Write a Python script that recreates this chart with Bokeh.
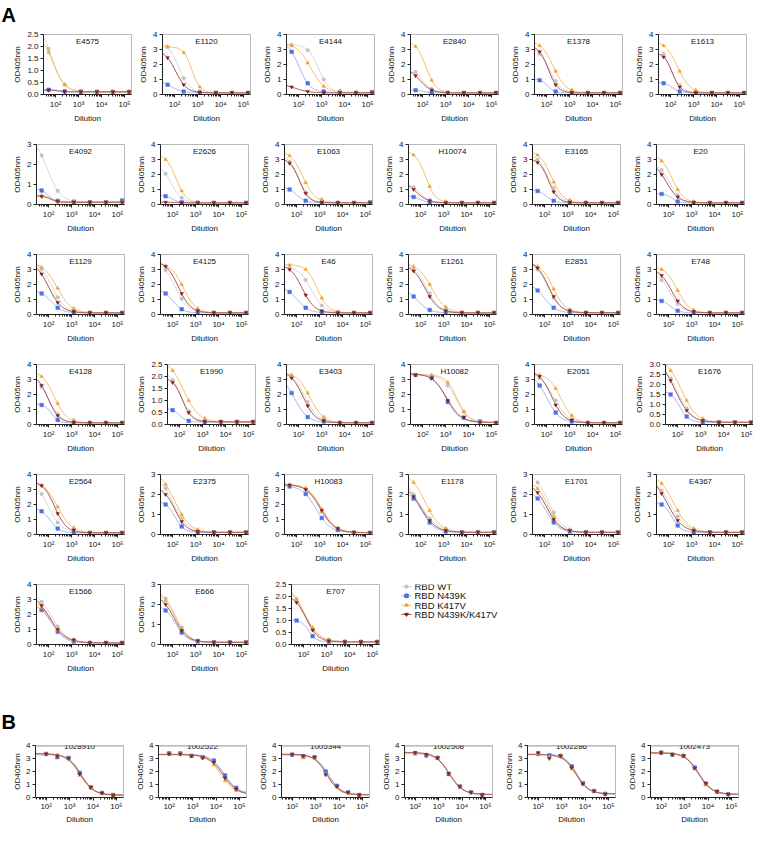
import numpy as np
from bokeh.plotting import figure
from bokeh.models import (FixedTicker, CustomJSTickFormatter, PrintfTickFormatter, Label,
                          Span, Spacer)
from bokeh.layouts import row, column
from bokeh.core.properties import value
from bokeh.embed import file_html
from bokeh.resources import INLINE

# ---------------- data ----------------
dil_a = [50, 250, 1250, 6250, 31250, 156250]
dil_b = [100, 300, 900, 2700, 8100, 24300, 72900]
series_names = ["RBD WT", "RBD N439K", "RBD K417V", "RBD N439K/K417V"]

names_a = ["E4575", "E1120", "E4144", "E2840", "E1378", "E1613",
           "E4092", "E2626", "E1063", "H10074", "E3165", "E20",
           "E1129", "E4125", "E46", "E1261", "E2851", "E748",
           "E4128", "E1990", "E3403", "H10082", "E2051", "E1676",
           "E2564", "E2375", "H10083", "E1178", "E1701", "E4367",
           "E1566", "E666", "E707"]

ymax_a = [2.5, 4, 4, 4, 4, 4,
          3, 4, 4, 4, 4, 4,
          4, 4, 4, 4, 4, 4,
          4, 2.5, 4, 4, 4, 3,
          4, 3, 4, 3, 3, 3,
          4, 3, 2.5]
ystep_a = [0.5, 1, 1, 1, 1, 1,
           1, 1, 1, 1, 1, 1,
           1, 1, 1, 1, 1, 1,
           1, 0.5, 1, 1, 1, 0.5,
           1, 1, 1, 1, 1, 1,
           1, 1, 0.5]

wt_a = [
    [1.90, 0.42, 0.15, 0.12, 0.11, 0.11],
    [3.15, 1.08, 0.22, 0.13, 0.11, 0.11],
    [3.30, 2.95, 1.00, 0.25, 0.13, 0.11],
    [1.50, 0.38, 0.13, 0.11, 0.11, 0.11],
    [2.70, 0.90, 0.16, 0.11, 0.11, 0.11],
    [2.70, 0.62, 0.15, 0.11, 0.11, 0.11],
    [2.45, 0.68, 0.18, 0.12, 0.11, 0.11],
    [2.05, 0.45, 0.13, 0.11, 0.11, 0.11],
    [2.85, 0.80, 0.16, 0.11, 0.11, 0.14],
    [1.15, 0.30, 0.12, 0.11, 0.11, 0.11],
    [3.00, 1.10, 0.20, 0.11, 0.11, 0.11],
    [2.30, 0.62, 0.15, 0.11, 0.11, 0.11],
    [3.00, 1.15, 0.25, 0.12, 0.11, 0.11],
    [2.95, 1.05, 0.22, 0.12, 0.11, 0.11],
    [3.10, 2.30, 0.60, 0.15, 0.11, 0.11],
    [3.00, 1.40, 0.30, 0.12, 0.11, 0.11],
    [3.00, 1.10, 0.22, 0.12, 0.11, 0.11],
    [2.30, 0.70, 0.16, 0.11, 0.11, 0.11],
    [2.50, 0.70, 0.16, 0.11, 0.11, 0.11],
    [1.85, 0.55, 0.15, 0.11, 0.11, 0.11],
    [3.20, 1.50, 0.40, 0.13, 0.11, 0.11],
    [3.30, 3.25, 2.60, 0.85, 0.22, 0.11],
    [3.10, 1.60, 0.35, 0.12, 0.11, 0.11],
    [2.30, 0.80, 0.20, 0.11, 0.11, 0.11],
    [2.70, 0.80, 0.20, 0.11, 0.11, 0.11],
    [2.30, 0.80, 0.20, 0.11, 0.11, 0.11],
    [3.30, 3.00, 1.50, 0.40, 0.15, 0.11],
    [2.00, 0.80, 0.28, 0.12, 0.11, 0.11],
    [2.60, 1.10, 0.25, 0.12, 0.11, 0.11],
    [2.20, 0.90, 0.25, 0.12, 0.11, 0.11],
    [2.85, 1.20, 0.35, 0.12, 0.11, 0.11],
    [2.30, 0.85, 0.20, 0.11, 0.11, 0.11],
    [1.80, 0.65, 0.20, 0.12, 0.11, 0.11],
]
n439k_a = [
    [0.20, 0.13, 0.11, 0.11, 0.11, 0.11],
    [0.65, 0.20, 0.12, 0.11, 0.11, 0.11],
    [2.85, 0.75, 0.20, 0.12, 0.11, 0.16],
    [0.28, 0.13, 0.11, 0.11, 0.11, 0.11],
    [0.95, 0.20, 0.11, 0.11, 0.11, 0.11],
    [0.75, 0.20, 0.11, 0.11, 0.11, 0.11],
    [0.70, 0.18, 0.12, 0.11, 0.11, 0.20],
    [0.55, 0.15, 0.11, 0.11, 0.11, 0.11],
    [1.00, 0.25, 0.12, 0.11, 0.11, 0.14],
    [0.50, 0.15, 0.11, 0.11, 0.11, 0.11],
    [0.90, 0.25, 0.11, 0.11, 0.11, 0.11],
    [0.70, 0.20, 0.11, 0.11, 0.11, 0.11],
    [1.40, 0.45, 0.13, 0.11, 0.11, 0.11],
    [1.40, 0.35, 0.12, 0.11, 0.11, 0.11],
    [1.50, 0.45, 0.14, 0.11, 0.11, 0.11],
    [1.20, 0.30, 0.12, 0.11, 0.11, 0.11],
    [1.60, 0.45, 0.14, 0.11, 0.11, 0.11],
    [0.90, 0.25, 0.11, 0.11, 0.11, 0.11],
    [1.30, 0.30, 0.11, 0.11, 0.11, 0.11],
    [0.60, 0.15, 0.11, 0.11, 0.11, 0.11],
    [2.10, 0.50, 0.20, 0.11, 0.11, 0.11],
    [3.30, 3.10, 1.50, 0.45, 0.20, 0.11],
    [2.60, 0.80, 0.20, 0.11, 0.11, 0.11],
    [1.50, 0.40, 0.12, 0.11, 0.11, 0.11],
    [1.55, 0.40, 0.12, 0.11, 0.11, 0.11],
    [1.50, 0.40, 0.12, 0.11, 0.11, 0.11],
    [3.20, 2.70, 1.10, 0.30, 0.12, 0.11],
    [1.80, 0.60, 0.15, 0.11, 0.11, 0.11],
    [1.80, 0.60, 0.15, 0.11, 0.11, 0.11],
    [1.50, 0.45, 0.12, 0.11, 0.11, 0.11],
    [2.30, 0.85, 0.20, 0.11, 0.11, 0.11],
    [1.70, 0.60, 0.15, 0.11, 0.11, 0.11],
    [1.00, 0.35, 0.12, 0.11, 0.11, 0.11],
]
k417v_a = [
    [1.75, 0.40, 0.13, 0.11, 0.11, 0.11],
    [3.20, 2.80, 0.50, 0.13, 0.11, 0.11],
    [3.25, 2.10, 0.55, 0.15, 0.11, 0.11],
    [3.20, 0.95, 0.15, 0.11, 0.11, 0.11],
    [3.25, 1.55, 0.30, 0.12, 0.11, 0.11],
    [3.25, 1.55, 0.30, 0.12, 0.11, 0.11],
    [0.45, 0.15, 0.11, 0.11, 0.11, 0.11],
    [3.00, 0.90, 0.15, 0.11, 0.11, 0.11],
    [3.25, 1.45, 0.35, 0.12, 0.11, 0.11],
    [3.30, 1.20, 0.20, 0.11, 0.11, 0.11],
    [3.30, 1.50, 0.30, 0.12, 0.11, 0.11],
    [2.90, 1.00, 0.20, 0.11, 0.11, 0.11],
    [3.15, 1.75, 0.40, 0.12, 0.11, 0.11],
    [3.25, 2.00, 0.40, 0.12, 0.11, 0.11],
    [3.30, 3.00, 1.10, 0.20, 0.11, 0.11],
    [3.20, 2.00, 0.50, 0.13, 0.11, 0.11],
    [3.20, 1.70, 0.35, 0.12, 0.11, 0.11],
    [3.00, 1.60, 0.30, 0.12, 0.11, 0.11],
    [3.20, 1.40, 0.30, 0.12, 0.11, 0.11],
    [2.25, 1.00, 0.25, 0.11, 0.11, 0.11],
    [3.30, 2.10, 0.50, 0.12, 0.11, 0.11],
    [3.30, 3.30, 2.80, 0.85, 0.20, 0.11],
    [3.30, 2.40, 0.60, 0.13, 0.11, 0.11],
    [2.70, 1.20, 0.30, 0.11, 0.11, 0.11],
    [3.30, 1.85, 0.45, 0.12, 0.11, 0.11],
    [2.50, 1.00, 0.25, 0.11, 0.11, 0.11],
    [3.30, 3.10, 1.70, 0.45, 0.15, 0.11],
    [2.60, 1.20, 0.30, 0.12, 0.11, 0.11],
    [2.30, 0.90, 0.20, 0.11, 0.11, 0.11],
    [2.55, 1.20, 0.30, 0.12, 0.11, 0.11],
    [2.45, 0.95, 0.25, 0.11, 0.11, 0.11],
    [2.20, 0.80, 0.20, 0.11, 0.11, 0.11],
    [1.90, 0.70, 0.20, 0.12, 0.11, 0.11],
]
dm_a = [
    [0.18, 0.12, 0.11, 0.11, 0.11, 0.11],
    [2.45, 0.65, 0.15, 0.11, 0.11, 0.11],
    [0.50, 0.20, 0.12, 0.11, 0.11, 0.11],
    [1.25, 0.30, 0.12, 0.11, 0.11, 0.11],
    [2.85, 0.65, 0.13, 0.11, 0.11, 0.11],
    [2.50, 0.50, 0.12, 0.11, 0.11, 0.11],
    [0.40, 0.15, 0.11, 0.11, 0.11, 0.11],
    [0.15, 0.12, 0.11, 0.11, 0.11, 0.11],
    [2.75, 0.75, 0.15, 0.11, 0.11, 0.11],
    [1.00, 0.25, 0.12, 0.11, 0.11, 0.11],
    [2.80, 0.85, 0.15, 0.11, 0.11, 0.11],
    [2.00, 0.50, 0.14, 0.11, 0.11, 0.11],
    [2.70, 0.80, 0.20, 0.11, 0.11, 0.11],
    [3.20, 1.40, 0.25, 0.11, 0.11, 0.11],
    [3.00, 1.30, 0.25, 0.11, 0.11, 0.11],
    [2.90, 1.20, 0.25, 0.11, 0.11, 0.11],
    [3.10, 1.20, 0.25, 0.11, 0.11, 0.11],
    [2.60, 0.90, 0.20, 0.11, 0.11, 0.11],
    [2.60, 0.60, 0.15, 0.11, 0.11, 0.11],
    [1.75, 0.50, 0.12, 0.11, 0.11, 0.11],
    [3.10, 1.25, 0.25, 0.11, 0.11, 0.11],
    [3.30, 3.10, 1.60, 0.50, 0.15, 0.11],
    [3.20, 1.30, 0.30, 0.11, 0.11, 0.11],
    [2.20, 0.70, 0.20, 0.11, 0.11, 0.11],
    [3.25, 1.40, 0.30, 0.11, 0.11, 0.11],
    [2.00, 0.65, 0.15, 0.11, 0.11, 0.11],
    [3.30, 3.00, 1.60, 0.40, 0.15, 0.11],
    [1.90, 0.70, 0.20, 0.11, 0.11, 0.11],
    [2.10, 0.75, 0.20, 0.11, 0.11, 0.11],
    [2.05, 0.70, 0.20, 0.11, 0.11, 0.11],
    [2.60, 1.00, 0.30, 0.11, 0.11, 0.11],
    [2.00, 0.70, 0.18, 0.11, 0.11, 0.11],
    [1.75, 0.60, 0.15, 0.11, 0.11, 0.11],
]

names_b = ["1028910", "1002522", "1005344", "1002508", "1002286", "1002473"]
wt_b = [
    [3.35, 3.25, 3.00, 1.85, 0.80, 0.35, 0.18],
    [3.40, 3.30, 3.20, 3.10, 2.75, 1.60, 0.70],
    [3.30, 3.20, 3.10, 2.00, 0.90, 0.40, 0.20],
    [3.40, 3.15, 3.05, 1.85, 0.85, 0.40, 0.20],
    [3.35, 3.20, 3.20, 2.40, 1.10, 0.50, 0.28],
    [3.45, 3.30, 3.20, 2.30, 1.10, 0.45, 0.25],
]
n439k_b = [
    [3.35, 3.10, 3.05, 1.90, 0.78, 0.35, 0.20],
    [3.40, 3.40, 3.20, 3.10, 2.85, 1.70, 0.75],
    [3.30, 3.15, 3.10, 2.00, 0.90, 0.40, 0.20],
    [3.40, 3.25, 3.05, 1.80, 0.85, 0.40, 0.20],
    [3.35, 3.25, 3.20, 2.40, 1.10, 0.50, 0.28],
    [3.45, 3.30, 3.20, 2.30, 1.05, 0.45, 0.25],
]
k417v_b = [
    [3.35, 3.25, 3.00, 1.70, 0.75, 0.32, 0.15],
    [3.30, 3.35, 3.20, 3.05, 2.50, 1.30, 0.55],
    [3.30, 3.05, 3.10, 1.80, 0.80, 0.35, 0.15],
    [3.40, 3.30, 3.05, 1.85, 0.85, 0.40, 0.20],
    [3.35, 3.10, 3.20, 2.20, 1.00, 0.50, 0.25],
    [3.50, 3.30, 3.20, 2.20, 1.05, 0.45, 0.25],
]
dm_b = [
    [3.35, 3.20, 3.00, 1.80, 0.78, 0.35, 0.16],
    [3.35, 3.35, 3.20, 3.05, 2.70, 1.50, 0.65],
    [3.30, 3.20, 3.10, 1.75, 0.85, 0.38, 0.18],
    [3.45, 3.30, 3.05, 1.85, 0.85, 0.40, 0.20],
    [3.45, 3.00, 3.20, 2.30, 1.05, 0.50, 0.26],
    [3.45, 3.30, 3.20, 2.25, 1.10, 0.45, 0.25],
]

# ---------------- style ----------------
FONT = "Liberation Sans"
marker_colors = ["#c2c2c2", "#4a72e6", "#f2a126", "#8b1a1a"]
line_colors = ["#d6d6d6", "#9cb2f2", "#f6bb62", "#a24a4a"]
markers = ["circle", "square", "triangle", "inverted_triangle"]
MSIZE = 3.6

XR_A = (30, 2.0e5)
XR_B = (35, 2.0e5)


def fit_curve(x, y, xs):
    """Least-squares 4-parameter logistic fit of the read points (grid search)."""
    lx = np.log10(np.asarray(x, float))
    y = np.asarray(y, float)
    lc = np.linspace(1.0, 5.6, 185)[:, None, None, None]
    h = np.linspace(0.5, 3.0, 26)[None, :, None, None]
    ymx = y.max()
    t = np.linspace(0.95 * ymx, min(max(ymx * 1.6, ymx + 0.3), 3.6 if ymx < 3.6 else ymx), 24)[None, None, :, None]
    s = 1.0 / (1.0 + 10 ** (h * (lx[None, None, None, :] - lc)))
    u = 1.0 - s
    b = ((u * (y - t * s)).sum(-1) / ((u * u).sum(-1) + 1e-9))
    b = np.clip(b, 0.0, y.min() + 0.03)
    pred = b[..., None] * u + t * s
    sse = ((pred - y) ** 2).sum(-1)
    i = np.unravel_index(np.argmin(sse), sse.shape)
    LC = lc[i[0], 0, 0, 0]
    H = h[0, i[1], 0, 0]
    T = t[0, 0, i[2], 0]
    B = b[i]
    lxs = np.log10(xs)
    return B + (T - B) / (1.0 + 10 ** (H * (lxs - LC)))


def sup_formatter():
    return CustomJSTickFormatter(code="""
        const sup = {1:'\\u00b9', 2:'\\u00b2', 3:'\\u00b3', 4:'\\u2074', 5:'\\u2075', 6:'\\u2076'};
        const e = Math.round(Math.log10(tick));
        return '10' + sup[e];
    """)


def make_panel(title, ymax, ystep, series, dil, xr, frame_h, left, right, top, bottom, panel_b=False):
    p = figure(x_axis_type="log", x_range=xr, y_range=(0, ymax),
               frame_width=88, frame_height=frame_h,
               min_border_left=left, min_border_right=right,
               min_border_top=top, min_border_bottom=bottom,
               toolbar_location=None, tools="", output_backend="svg",
               x_axis_label="Dilution", y_axis_label="OD405nm")
    p.grid.visible = False
    p.outline_line_color = "#b8b8b8"
    p.outline_line_width = 1
    p.background_fill_color = "white"
    p.border_fill_color = "white"

    minors = [m * 10 ** e for e in range(1, 6) for m in range(2, 10) if xr[0] < m * 10 ** e < xr[1]]
    p.xaxis.ticker = FixedTicker(ticks=[100, 1000, 10000, 100000], minor_ticks=minors)
    p.xaxis.formatter = sup_formatter()
    yt = list(np.round(np.arange(0, ymax + 1e-9, ystep), 2))
    p.yaxis.ticker = FixedTicker(ticks=yt, minor_ticks=[])
    p.yaxis.formatter = PrintfTickFormatter(format="%.1f" if ystep < 1 else "%d")

    for ax in p.axis:
        ax.axis_line_color = "#222222"
        ax.major_tick_line_color = "#222222"
        ax.minor_tick_line_color = "#222222"
        ax.major_tick_out = 3
        ax.major_tick_in = 0
        ax.minor_tick_out = 2
        ax.minor_tick_in = 0
        ax.major_label_text_font = FONT
        ax.major_label_text_font_size = "8px"
        ax.major_label_text_color = "#111111"
        ax.axis_label_text_font = FONT
        ax.axis_label_text_font_size = "8px"
        ax.axis_label_text_font_style = "normal"
        ax.axis_label_text_color = "#111111"
        ax.major_label_standoff = 2
        ax.axis_label_standoff = 2 if not panel_b else 1
    if panel_b:
        p.xaxis.major_label_standoff = 1

    xs = np.logspace(np.log10(xr[0]), np.log10(xr[1]), 120)
    for k, ys in enumerate(series):
        p.line(xs, fit_curve(dil, ys, xs), line_color=line_colors[k], line_width=1)
    for k, ys in enumerate(series):
        p.scatter(dil, ys, marker=markers[k], size=MSIZE, fill_color=marker_colors[k],
                  line_color=marker_colors[k], line_width=0.5)

    if panel_b:
        sp = Span(location=ymax, dimension="width", line_color="#c4c4c4", line_width=2.5)
        sp.level = "underlay"
        p.add_layout(sp)
        p.add_layout(Label(x=np.sqrt(xr[0] * xr[1]), y=ymax, y_offset=-1, text=title,
                           text_align="center", text_baseline="middle", text_font=FONT,
                           text_font_size="8px", text_color="#111111", level="overlay"))
    else:
        p.add_layout(Label(x=np.sqrt(xr[0] * xr[1]), y=ymax, y_offset=-2, text=title,
                           text_align="center", text_baseline="top", text_font=FONT,
                           text_font_size="8px", text_color="#111111"))
    return p


def header(letter, h, ytxt):
    p = figure(frame_width=741, frame_height=h, x_range=(0, 741), y_range=(0, h), min_border=0,
               toolbar_location=None, tools="", output_backend="svg",
               x_axis_location=None, y_axis_location=None)
    p.grid.visible = False
    p.outline_line_color = None
    p.text(x=[1], y=[ytxt], text=[letter], text_font=value(FONT), text_font_size="20px",
           text_font_style="bold", text_baseline="middle", text_align="left", text_color="black")
    return p


def legend_fig():
    # a panel-shaped figure whose frame holds the key of the four series (pixel-like units)
    p = figure(frame_width=113, frame_height=60, x_range=(0, 113), y_range=(0, 60),
               min_border_left=5, min_border_right=5, min_border_top=5, min_border_bottom=45,
               toolbar_location=None, tools="", output_backend="svg",
               x_axis_location=None, y_axis_location=None)
    p.grid.visible = False
    p.outline_line_color = None
    ys = [58, 48.7, 39.4, 30.1]
    for k, name in enumerate(series_names):
        p.line(x=[12, 22], y=[ys[k], ys[k]], line_color=line_colors[k], line_width=1)
        p.scatter(x=[17], y=[ys[k]], marker=markers[k], size=MSIZE, fill_color=marker_colors[k],
                  line_color=marker_colors[k])
        p.text(x=[25], y=[ys[k]], text=[name], text_font=value(FONT), text_font_size="9.5px",
               text_baseline="middle", text_align="left", text_color="#111111")
    return p


COL_W = 123
rows = [header("A", 29, 15)]
n_a = len(names_a)
for r in range(6):
    children = [Spacer(width=10, height=110)]
    for c in range(6):
        i = r * 6 + c
        if i < n_a:
            dec = ystep_a[i] < 1
            if c < 5:
                left = 30 if dec else 25
                right = COL_W - left - 88
            else:
                left = 28 if dec else 25
                right = 0 if dec else 3
            series = [wt_a[i], n439k_a[i], k417v_a[i], dm_a[i]]
            children.append(make_panel(names_a[i], ymax_a[i], ystep_a[i], series, dil_a, XR_A,
                                       60, left, right, 5, 45))
        elif i == n_a:
            children.append(legend_fig())
    rows.append(row(*children))

rows.append(header("B", 52, 20))
children = [Spacer(width=10, height=84)]
for c in range(6):
    left = 25
    right = COL_W - left - 88 if c < 5 else 3
    series = [wt_b[c], n439k_b[c], k417v_b[c], dm_b[c]]
    children.append(make_panel(names_b[c], 4, 1, series, dil_b, XR_B, 52, left, right, 4, 28,
                               panel_b=True))
rows.append(row(*children))

layout = column(*rows)
open("out.html", "w", encoding="utf-8").write(file_html(layout, INLINE, title="ELISA"))
